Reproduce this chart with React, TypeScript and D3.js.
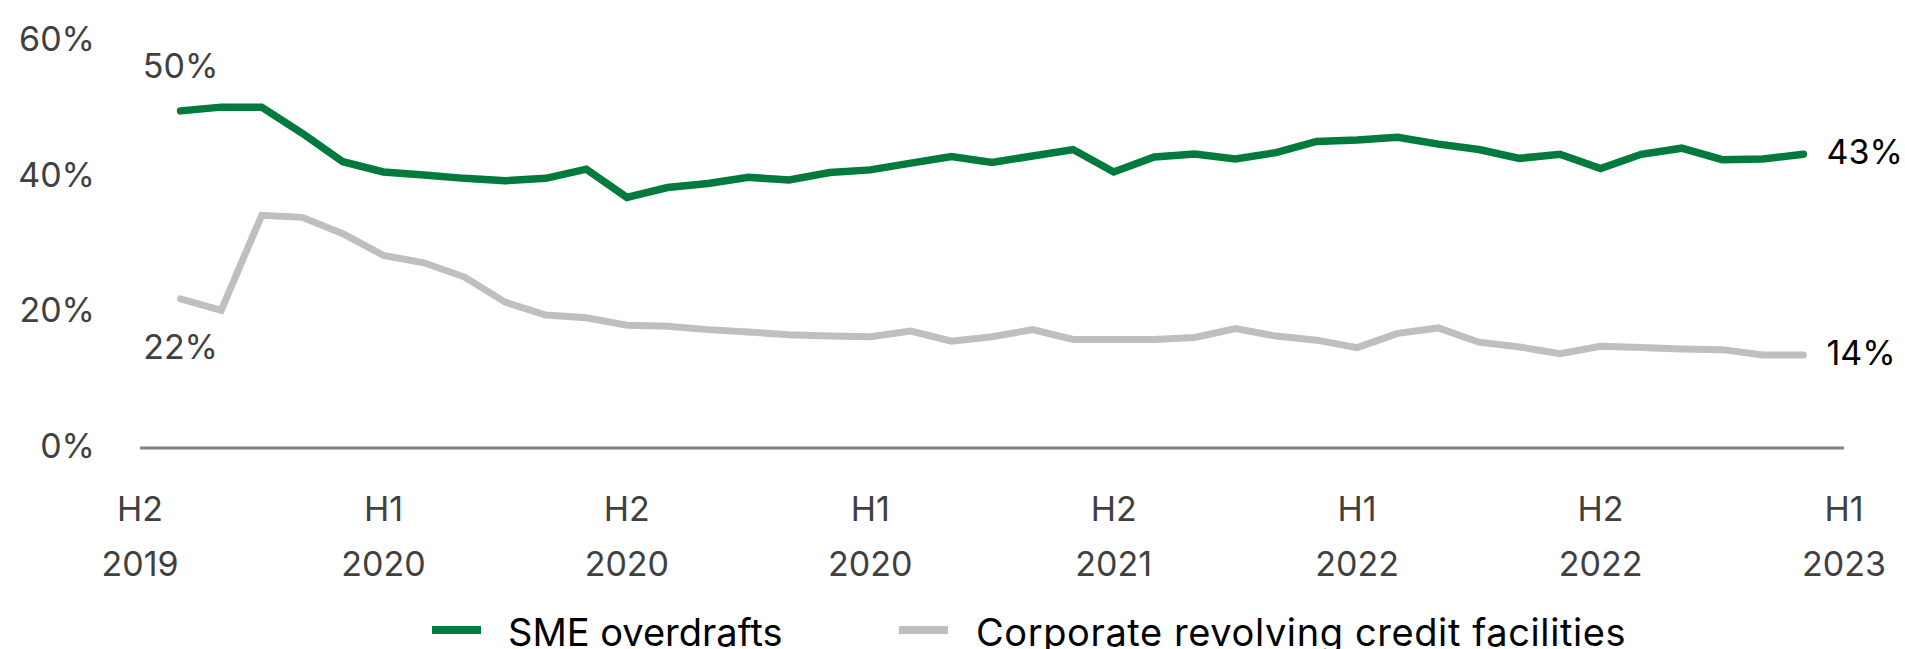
import React from 'react'
import * as d3 from 'd3'

// half-year tick labels (the reference repeats "H1 2020" at the 4th tick)
const periods = ['H2', 'H1', 'H2', 'H1', 'H2', 'H1', 'H2', 'H1']
const years = ['2019', '2020', '2020', '2020', '2021', '2022', '2022', '2023']
const tickMonths = [0, 6, 12, 18, 24, 30, 36, 42]
const yTicks = [0, 20, 40, 60]

// monthly series, first point sits one month after the first tick
const firstMonth = 1
const smeOverdrafts = [
  49.7, 50.25, 50.25, 46.4, 42.2, 40.7, 40.25, 39.75, 39.4, 39.75, 41.1, 36.95, 38.4, 39.0,
  39.9, 39.5, 40.6, 41.0, 42.0, 42.95, 42.1, 43.05, 44.0, 40.7, 42.9, 43.35, 42.6, 43.55,
  45.2, 45.4, 45.8, 44.8, 44.0, 42.7, 43.3, 41.2, 43.3, 44.2, 42.5, 42.6, 43.3
]
const corporateRcf = [
  22.0, 20.3, 34.3, 34.0, 31.6, 28.4, 27.3, 25.2, 21.5, 19.6, 19.2, 18.1, 17.95, 17.45,
  17.1, 16.7, 16.5, 16.4, 17.25, 15.75, 16.4, 17.45, 16.0, 16.0, 16.0, 16.3, 17.6, 16.5,
  15.9, 14.8, 16.9, 17.7, 15.6, 14.9, 13.9, 15.0, 14.8, 14.6, 14.5, 13.7, 13.7
]
const seriesNames = ['SME overdrafts', 'Corporate revolving credit facilities']
const colors = ['#007a3d', '#bfbfbf']

const W = 1905
const H = 649
const FONT = 'Inter, "Noto Sans", sans-serif'

export default function App() {
  const x = d3.scaleLinear().domain([0, 42]).range([140, 1844])
  const y = d3.scaleLinear().domain([0, 60]).range([448, 41])
  const line = d3.line<number>()
    .x((_, i) => x(i + firstMonth))
    .y(d => y(d))

  const series = [smeOverdrafts, corporateRcf]
  const last = smeOverdrafts.length - 1 + firstMonth
  const fmt = (v: number) => `${Math.round(v)}%`

  return (
    <svg width={W} height={H} style={{ position: 'absolute', left: 0, top: 0, fontFamily: FONT }}>
      <rect width={W} height={H} fill="#fff" />

      {/* y tick labels */}
      {yTicks.map(t => (
        <text key={t} x={95} y={y(t) - 2.5} textAnchor="end" dominantBaseline="central"
          fontSize={34} fill="#404040">{t}%</text>
      ))}

      {/* baseline */}
      <line x1={x(0)} x2={x(42)} y1={y(0)} y2={y(0)} stroke="#808080" strokeWidth={3} />

      {/* x tick labels */}
      {tickMonths.map((m, i) => (
        <g key={m} transform={`translate(${x(m)},0)`} fontSize={34} fill="#404040" textAnchor="middle">
          <text y={508} dominantBaseline="central">{periods[i]}</text>
          <text y={563} dominantBaseline="central">{years[i]}</text>
        </g>
      ))}

      {/* lines, grey underneath */}
      {[1, 0].map(s => (
        <path key={s} d={line(series[s]) || ''} fill="none" stroke={colors[s]}
          strokeWidth={s === 0 ? 7.5 : 7} strokeLinecap="round" strokeLinejoin="miter" />
      ))}

      {/* start / end labels */}
      <text x={x(firstMonth)} y={y(smeOverdrafts[0]) - 45} textAnchor="middle" dominantBaseline="central"
        fontSize={34} fill="#404040">{fmt(smeOverdrafts[0])}</text>
      <text x={x(firstMonth)} y={y(corporateRcf[0]) + 48} textAnchor="middle" dominantBaseline="central"
        fontSize={34} fill="#404040">{fmt(corporateRcf[0])}</text>
      <text x={x(last) + 23} y={y(smeOverdrafts[smeOverdrafts.length - 1]) - 3} dominantBaseline="central"
        fontSize={34} fill="#000">{fmt(smeOverdrafts[smeOverdrafts.length - 1])}</text>
      <text x={x(last) + 23} y={y(corporateRcf[corporateRcf.length - 1]) - 3} dominantBaseline="central"
        fontSize={34} fill="#000">{fmt(corporateRcf[corporateRcf.length - 1])}</text>

      {/* legend, clipped at the bottom edge as in the source */}
      {[{ x0: 432, tx: 508, ls: 0 }, { x0: 899, tx: 976, ls: 0.6 }].map((p, i) => (
        <g key={i}>
          <rect x={p.x0} y={626} width={49} height={8} fill={colors[i]} />
          <text x={p.tx} y={632} dominantBaseline="central" fontSize={38} letterSpacing={p.ls}
            fill="#000">{seriesNames[i]}</text>
        </g>
      ))}
    </svg>
  )
}
